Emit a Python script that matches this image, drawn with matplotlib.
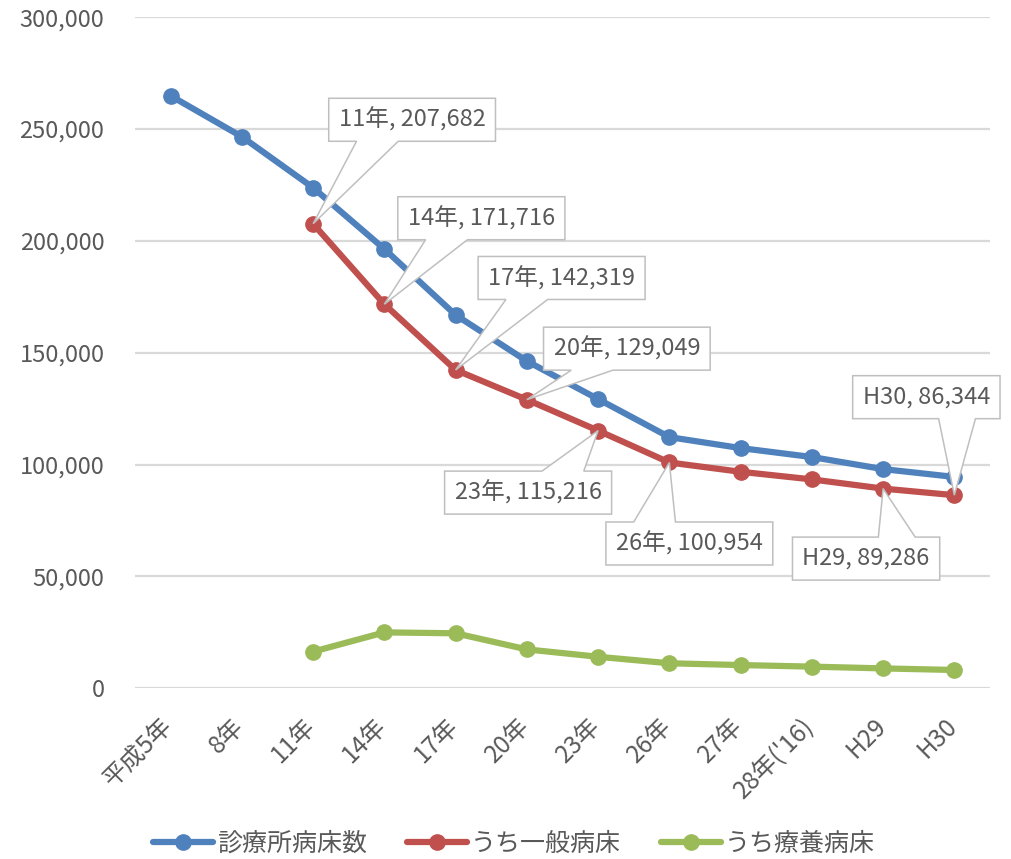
import numpy as np
import matplotlib
matplotlib.use("Agg")
import matplotlib.pyplot as plt
from matplotlib.path import Path
from matplotlib.patches import PathPatch
import matplotlib.transforms as mtransforms

plt.rcParams['font.family'] = ['Noto Sans CJK JP', 'DejaVu Sans']

# ---- data -------------------------------------------------------------
categories = ['平成5年', '8年', '11年', '14年', '17年', '20年', '23年',
              '26年', '27年', "28年('16)", 'H29', 'H30']
total_beds = [264900, 246600, 223800, 196400, 166900, 146300, 129300,
              112300, 107400, 103400, 98000, 94500]
general_beds = [np.nan, np.nan, 207682, 171716, 142319, 129049, 115216,
                100954, 96800, 93400, 89286, 86344]
longterm_beds = [np.nan, np.nan, 16400, 25000, 24600, 17400, 14100,
                 11200, 10400, 9700, 8900, 8200]
series_names = ['診療所病床数', 'うち一般病床', 'うち療養病床']

# callout placement for labelled points of the general-bed series:
# index -> (box centre offset x, y) in pixels from the point
callouts = {2: (99, 104), 3: (97, 86), 4: (106, 92), 5: (100, 51),
            6: (-70, -62), 7: (20, -81), 10: (-17, -70), 11: (-28, 98)}

colors = ['#4F81BD', '#C0504D', '#9BBB59']
text_color = '#595959'
grid_color = '#D9D9D9'

# ---- figure -----------------------------------------------------------
DPI = 100
fig = plt.figure(figsize=(10.11, 8.59), dpi=DPI)
ax = fig.add_axes([0.1335, 0.1987, 0.8457, 0.7812])

x = np.arange(len(categories))
for vals, c, name in zip([total_beds, general_beds, longterm_beds], colors, series_names):
    ax.plot(x, vals, color=c, lw=4.5, marker='o', markersize=11,
            solid_capstyle='round', label=name, zorder=3)

ax.set_xlim(-0.5, len(categories) - 0.5)
ax.set_ylim(0, 300000)
ax.set_yticks(np.arange(0, 300001, 50000))
ax.yaxis.set_major_formatter(matplotlib.ticker.FuncFormatter(lambda v, p: f'{int(v):,}'))
ax.grid(axis='y', color=grid_color, lw=1.6)
ax.set_axisbelow(True)
for s in ax.spines.values():
    s.set_visible(False)
ax.tick_params(axis='y', length=0, pad=22, labelsize=17, labelcolor=text_color)
ax.tick_params(axis='x', length=0, pad=18, labelsize=17.5, labelcolor=text_color)
ax.set_xticks(x)
ax.set_xticklabels(categories, rotation=45, ha='right', va='top')
shift = mtransforms.ScaledTranslation(0.08, 0, fig.dpi_scale_trans)
for lab in ax.get_xticklabels():
    lab.set_transform(lab.get_transform() + shift)

# ---- data callouts ----------------------------------------------------
texts = []
for i, (dx, dy) in callouts.items():
    val = general_beds[i]
    label = f'{categories[i]}, {int(val):,}'
    t = ax.annotate(label, xy=(x[i], val), xytext=(dx, dy),
                    textcoords='offset pixels', ha='center', va='center',
                    fontsize=17, color=text_color, zorder=7,
                    annotation_clip=False)
    texts.append((i, dx, dy, t))

fig.canvas.draw()
renderer = fig.canvas.get_renderer()
for i, dx, dy, t in texts:
    bb = t.get_window_extent(renderer)
    hw = bb.width / 2 + 10
    hh = 21.5
    L, R, B, T = dx - hw, dx + hw, dy - hh, dy + hh
    w = R - L
    if dx > 0:
        b1, b2 = L + w / 6, L + 5 * w / 12
    else:
        b1, b2 = L + 7 * w / 12, L + 5 * w / 6
    if dy > 0:  # point lies below the box
        verts = [(L, B), (b1, B), (0, 0), (b2, B), (R, B), (R, T), (L, T), (L, B)]
    else:       # point lies above the box
        verts = [(L, B), (R, B), (R, T), (b2, T), (0, 0), (b1, T), (L, T), (L, B)]
    verts = [(vx / DPI, vy / DPI) for vx, vy in verts]
    codes = [Path.MOVETO] + [Path.LINETO] * (len(verts) - 2) + [Path.CLOSEPOLY]
    trans = fig.dpi_scale_trans + mtransforms.ScaledTranslation(
        x[i], general_beds[i], ax.transData)
    patch = PathPatch(Path(verts, codes), facecolor='white', edgecolor='#BFBFBF',
                      lw=1.1, transform=trans, zorder=6, clip_on=False)
    ax.add_patch(patch)

# ---- legend -----------------------------------------------------------
fig.legend(loc='center', bbox_to_anchor=(0.508, 0.018), ncol=3, frameon=False,
           fontsize=18, labelcolor=text_color, handlelength=2.4,
           handletextpad=0.16, columnspacing=1.6)

fig.savefig('out.png', dpi=DPI)
